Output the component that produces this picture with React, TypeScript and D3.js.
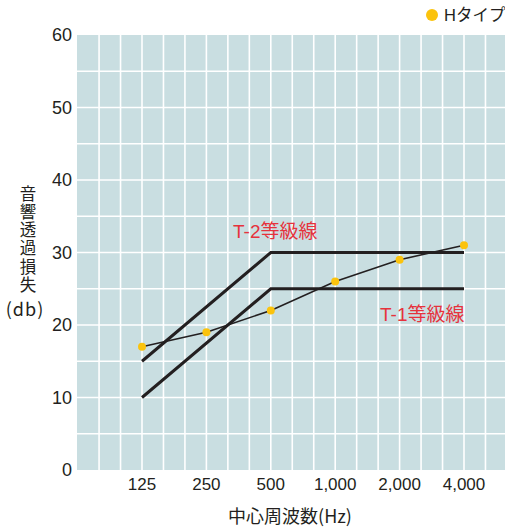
import React from "react";
import * as d3 from "d3";

const freqs = [125, 250, 500, 1000, 2000, 4000];
const freqLabels = ["125", "250", "500", "1,000", "2,000", "4,000"];
const hType = [17, 19, 22, 26, 29, 31];
const t2Freqs = [125, 500, 4000];
const t2Vals = [15, 30, 30];
const t1Freqs = [125, 500, 4000];
const t1Vals = [10, 25, 25];
const yTicks = [0, 10, 20, 30, 40, 50, 60];
const yTitle = "音響透過損失";

const W = 505;
const H = 528;
const plotL = 77;
const plotR = 505;
const plotT = 35;
const plotB = 470;

export default function App() {
  const x = d3.scaleLog().base(2).domain([125, 4000]).range([142, 464]);
  const y = d3.scaleLinear().domain([0, 60]).range([plotB, plotT]);
  const vGrid: number[] = [];
  for (let k = 1; k < 30; k++) {
    const f = 62.5 * Math.pow(2, k / 3);
    const px = x(f);
    if (px < plotR - 2) vGrid.push(px);
  }
  const hGrid = d3.range(5, 60, 5);
  const line = d3
    .line<[number, number]>()
    .x((d) => x(d[0]))
    .y((d) => y(d[1]));
  const font = "'Liberation Sans', Arial, 'Noto Sans CJK JP', sans-serif";
  const jfont = "'Noto Sans CJK JP', 'Liberation Sans', sans-serif";
  const dark = "#231f20";
  const red = "#e6323c";
  const yellow = "#fbc30d";

  return (
    <svg
      width={W}
      height={H}
      style={{ position: "absolute", left: 0, top: 0, background: "#fff" }}
    >
      <rect x={plotL} y={plotT} width={plotR - plotL} height={plotB - plotT} fill="#c9dee1" />
      {vGrid.map((px, i) => (
        <line key={"v" + i} x1={px} x2={px} y1={plotT} y2={plotB} stroke="#fff" strokeWidth={1.6} />
      ))}
      {hGrid.map((v, i) => (
        <line key={"h" + i} x1={plotL} x2={plotR} y1={y(v)} y2={y(v)} stroke="#fff" strokeWidth={1.6} />
      ))}
      {yTicks.map((v) => (
        <text
          key={"yt" + v}
          x={72}
          y={y(v)}
          textAnchor="end"
          dominantBaseline="central"
          fontFamily={font}
          fontSize={18}
          fill={dark}
        >
          {v}
        </text>
      ))}
      {freqs.map((f, i) => (
        <text
          key={"xt" + f}
          x={x(f)}
          y={484}
          textAnchor="middle"
          dominantBaseline="central"
          fontFamily={font}
          fontSize={17}
          fill={dark}
        >
          {freqLabels[i]}
        </text>
      ))}
      <text
        x={290}
        y={515}
        textAnchor="middle"
        dominantBaseline="central"
        fontFamily={jfont}
        fontSize={18}
        fill={dark}
      >
        中心周波数(Hz)
      </text>
      <text
        x={28}
        y={185}
        fontFamily={jfont}
        fontSize={16.5}
        letterSpacing={1.8}
        fill={dark}
        style={{ writingMode: "vertical-rl", textOrientation: "upright" } as React.CSSProperties}
      >
        {yTitle}
      </text>
      <text
        x={25}
        y={308}
        textAnchor="middle"
        dominantBaseline="central"
        fontFamily={jfont}
        fontSize={18}
        letterSpacing={1}
        fill={dark}
      >
        (db)
      </text>
      <path
        d={line(t2Freqs.map((f, i) => [f, t2Vals[i]]) as [number, number][]) || ""}
        fill="none"
        stroke={dark}
        strokeWidth={3}
      />
      <path
        d={line(t1Freqs.map((f, i) => [f, t1Vals[i]]) as [number, number][]) || ""}
        fill="none"
        stroke={dark}
        strokeWidth={3}
      />
      <path
        d={line(freqs.map((f, i) => [f, hType[i]]) as [number, number][]) || ""}
        fill="none"
        stroke={dark}
        strokeWidth={1.6}
      />
      {freqs.map((f, i) => (
        <circle key={"p" + f} cx={x(f)} cy={y(hType[i])} r={4} fill={yellow} />
      ))}
      <text
        x={233}
        y={231}
        dominantBaseline="central"
        fontFamily={font}
        fontSize={19}
        fill={red}
      >
        T-2等級線
      </text>
      <text
        x={380}
        y={314}
        dominantBaseline="central"
        fontFamily={font}
        fontSize={19}
        fill={red}
      >
        T-1等級線
      </text>
      <circle cx={432} cy={15} r={6} fill={yellow} />
      <text
        x={444}
        y={15}
        dominantBaseline="central"
        fontFamily={font}
        fontSize={16.5}
        fill={dark}
      >
        Hタイプ
      </text>
    </svg>
  );
}
